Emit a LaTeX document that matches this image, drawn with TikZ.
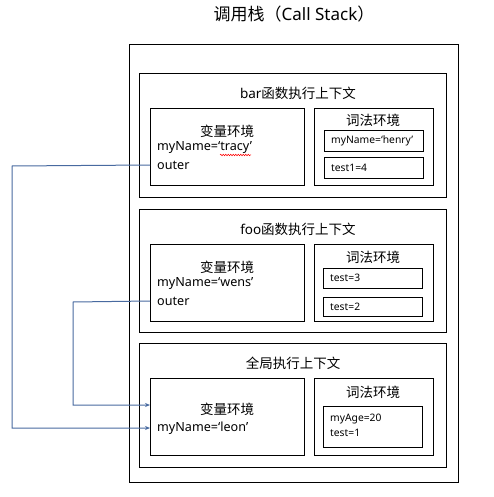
\documentclass[tikz,border=0pt]{standalone}
\usepackage{fontspec}
\setmainfont{Noto Sans}
\newfontfamily\cjk{Noto Sans CJK SC}
\usetikzlibrary{arrows.meta,decorations.pathmorphing}
\definecolor{linkblue}{RGB}{72,106,160}
\tikzset{
  box/.style={draw=black, line width=0.9pt, anchor=north west, inner sep=0pt},
  ttl/.style={inner sep=0pt, font=\fontsize{17}{20}\selectfont},
  head/.style={inner sep=0pt, font=\fontsize{13.5}{16}\selectfont},
  body/.style={inner sep=0pt, anchor=west, font=\fontsize{12.6}{15}\selectfont},
  small/.style={inner sep=0pt, anchor=west, font=\fontsize{10.3}{13}\selectfont},
  link/.style={draw=linkblue, line width=1pt, -{Stealth[length=5pt,width=4pt]}},
}
\begin{document}
\begin{tikzpicture}[x=1pt,y=-1pt]
\useasboundingbox (0,0) rectangle (494,497);
\node[ttl] (title) at (294,14) {\cjk 调用栈（\rmfamily Call Stack\cjk ）};
\node[box, minimum width=329pt, minimum height=438pt] (stack) at (129,44) {};
% bar
\node[box, minimum width=307pt, minimum height=124pt] (bar) at (139,73) {};
\node[head] (bartitle) at (298,93) {bar\cjk 函数执行上下文};
\node[box, minimum width=154pt, minimum height=77pt] (barvar) at (150,108) {};
\node[head] (barvart) at (227,131) {\cjk 变量环境};
\node[body] (barname) at (157,148) {myName=‘tracy’};
\node[body] (barouter) at (157,165) {outer};
\node[box, minimum width=119pt, minimum height=77pt] (barlex) at (314,108) {};
\node[head] (barlext) at (373,120) {\cjk 词法环境};
\node[box, minimum width=99pt, minimum height=21pt] (barl1) at (324,130) {};
\node[small] (barl1t) at (331,140.5) {myName=‘henry’};
\node[box, minimum width=99pt, minimum height=21pt] (barl2) at (324,157) {};
\node[small] (barl2t) at (331,167.5) {test1=4};
\draw[red, line width=0.5pt, decorate, decoration={snake, amplitude=0.8pt, segment length=2.5pt}] (220,155) -- (251,155);
% foo
\node[box, minimum width=307pt, minimum height=123pt] (foo) at (139,209) {};
\node[head] (footitle) at (298,229) {foo\cjk 函数执行上下文};
\node[box, minimum width=154pt, minimum height=77pt] (foovar) at (150,244) {};
\node[head] (foovart) at (227,267) {\cjk 变量环境};
\node[body] (fooname) at (157,284) {myName=‘wens’};
\node[body] (fooouter) at (157,301) {outer};
\node[box, minimum width=119pt, minimum height=77pt] (foolex) at (314,244) {};
\node[head] (foolext) at (373,257) {\cjk 词法环境};
\node[box, minimum width=99pt, minimum height=20pt] (fool1) at (323,268) {};
\node[small] (fool1t) at (330,278) {test=3};
\node[box, minimum width=99pt, minimum height=19pt] (fool2) at (323,297) {};
\node[small] (fool2t) at (330,306.5) {test=2};
% global
\node[box, minimum width=307pt, minimum height=124pt] (glob) at (139,343) {};
\node[head] (globtitle) at (293,363) {\cjk 全局执行上下文};
\node[box, minimum width=154pt, minimum height=77pt] (globvar) at (150,378) {};
\node[head] (globvart) at (227,409) {\cjk 变量环境};
\node[body] (globname) at (157,428) {myName=‘leon’};
\node[box, minimum width=119pt, minimum height=77pt] (globlex) at (314,378) {};
\node[head] (globlext) at (373,392) {\cjk 词法环境};
\node[box, minimum width=99pt, minimum height=41pt] (globl1) at (323,406) {};
\node[small] (globl1a) at (330,419) {myAge=20};
\node[small] (globl1b) at (330,433) {test=1};
% links
\coordinate (k1) at (12,166);
\coordinate (k2) at (73,302);
\draw[link] (barvar.west |- barouter) -- (k1) -- (k1 |- globname) -- (globvar.west |- globname);
\draw[link] (foovar.west |- fooouter) -- (k2) -- (k2 |- 0,405) -- (globvar.west |- 0,405);
\end{tikzpicture}
\end{document}
